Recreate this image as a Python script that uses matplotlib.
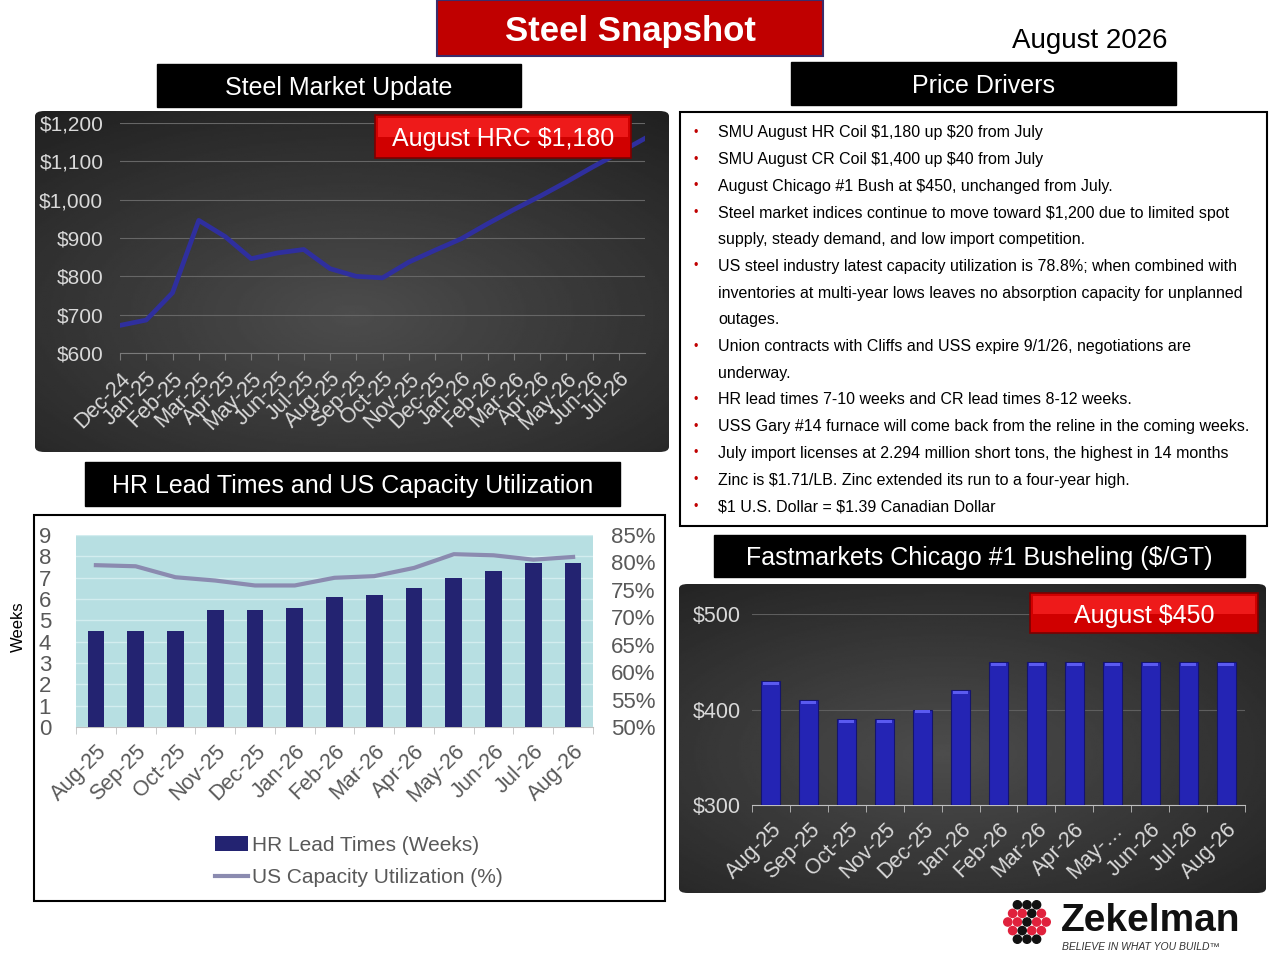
import matplotlib.pyplot as plt
import numpy as np
from matplotlib.patches import Rectangle, FancyBboxPatch, Circle
from matplotlib.ticker import FuncFormatter

plt.rcParams['font.family'] = ['Liberation Sans', 'DejaVu Sans']
plt.rcParams['text.parse_math'] = False

W, H = 1280, 960

# ---- data ----
hrc_months = ['Dec-24', 'Jan-25', 'Feb-25', 'Mar-25', 'Apr-25', 'May-25', 'Jun-25',
              'Jul-25', 'Aug-25', 'Sep-25', 'Oct-25', 'Nov-25', 'Dec-25', 'Jan-26',
              'Feb-26', 'Mar-26', 'Apr-26', 'May-26', 'Jun-26', 'Jul-26']
hrc_price = [672, 686, 757, 946, 904, 846, 861, 870, 820, 800, 796, 837, 868, 898,
             937, 974, 1009, 1046, 1085, 1122, 1160]

lead_months = ['Aug-25', 'Sep-25', 'Oct-25', 'Nov-25', 'Dec-25', 'Jan-26', 'Feb-26',
               'Mar-26', 'Apr-26', 'May-26', 'Jun-26', 'Jul-26', 'Aug-26']
lead_weeks = [4.5, 4.5, 4.5, 5.5, 5.5, 5.6, 6.1, 6.2, 6.5, 7.0, 7.3, 7.7, 7.7]
cap_util = [79.5, 79.3, 77.3, 76.7, 75.8, 75.8, 77.2, 77.5, 79.0, 81.5, 81.3, 80.5, 81.0]

bush_months = ['Aug-25', 'Sep-25', 'Oct-25', 'Nov-25', 'Dec-25', 'Jan-26', 'Feb-26',
               'Mar-26', 'Apr-26', 'May-…', 'Jun-26', 'Jul-26', 'Aug-26']
bush_price = [430, 410, 390, 390, 400, 420, 450, 450, 450, 450, 450, 450, 450]

drivers = [
    'SMU August HR Coil $1,180 up $20 from July',
    'SMU August CR Coil $1,400 up $40 from July',
    'August Chicago #1 Bush at $450, unchanged from July.',
    'Steel market indices continue to move toward $1,200 due to limited spot\n'
    'supply, steady demand, and low import competition.',
    'US steel industry latest capacity utilization is 78.8%; when combined with\n'
    'inventories at multi-year lows leaves no absorption capacity for unplanned\n'
    'outages.',
    'Union contracts with Cliffs and USS expire 9/1/26, negotiations are\n'
    'underway.',
    'HR lead times 7-10 weeks and CR lead times 8-12 weeks.',
    'USS Gary #14 furnace will come back from the reline in the coming weeks.',
    'July import licenses at 2.294 million short tons, the highest in 14 months',
    'Zinc is $1.71/LB. Zinc extended its run to a four-year high.',
    '$1 U.S. Dollar = $1.39 Canadian Dollar',
]

fig = plt.figure(figsize=(12.8, 9.6), dpi=100, facecolor='white')


def rect(x0, y0, x1, y1):
    return [x0 / W, 1 - y1 / H, (x1 - x0) / W, (y1 - y0) / H]


def box(x0, y0, x1, y1, text, fc='black', ec='black', size=18, weight='normal', lw=1.0):
    fig.patches.append(Rectangle((x0 / W, 1 - y1 / H), (x1 - x0) / W, (y1 - y0) / H,
                                 transform=fig.transFigure, fc=fc, ec=ec, lw=lw))
    fig.text((x0 + x1) / 2 / W, 1 - (y0 + y1) / 2 / H, text, color='white',
             ha='center', va='center_baseline', size=size, weight=weight)


def red_label(x0, y0, x1, y1, text):
    # red tag with a lighter top band for the bevel look
    box(x0, y0, x1, y1, '', fc='#d00000', ec='#7a0000', lw=1.2)
    hh = (y1 - y0) * 0.45
    fig.patches.append(Rectangle(((x0 + 3) / W, 1 - (y0 + 3 + hh) / H), (x1 - x0 - 6) / W, hh / H,
                                 transform=fig.transFigure, fc='#ee1a1a', ec='none'))
    fig.text((x0 + x1) / 2 / W, 1 - (y0 + y1) / 2 / H, text, color='white',
             ha='center', va='center_baseline', size=18, zorder=4)


def dark_panel(x0, y0, x1, y1, cx=0.5, cy=0.6):
    bg = fig.add_axes(rect(x0, y0, x1, y1))
    yy, xx = np.mgrid[0:1:200j, 0:1:300j]
    r = np.hypot(xx - cx, (yy - cy) * 1.1)
    img = np.clip(0.30 - 0.21 * r, 0, 1)
    im = bg.imshow(img, cmap='gray', vmin=0, vmax=1, extent=(0, 1, 0, 1), aspect='auto')
    clip = FancyBboxPatch((0, 0), 1, 1, boxstyle='round,pad=0,rounding_size=0.015',
                          transform=bg.transAxes, fc='none', ec='none')
    bg.add_patch(clip)
    im.set_clip_path(clip)
    bg.axis('off')


# ---- headers ----
box(437, 0, 823, 56, 'Steel Snapshot', fc='#c00000', ec='#3b2d6b', size=25, weight='bold', lw=1.5)
fig.text(1167 / W, 1 - 38 / H, 'August 2026', ha='right', va='center_baseline', size=20, color='black')
box(157, 64, 521, 107, 'Steel Market Update')
box(791, 62, 1176, 105, 'Price Drivers')
box(85, 462, 620, 506, 'HR Lead Times and US Capacity Utilization')
box(714, 535, 1245, 577, 'Fastmarkets Chicago #1 Busheling ($/GT)')

# ---- HRC line chart ----
dark_panel(35, 111, 669, 452)
ax1 = fig.add_axes(rect(120, 123, 645, 353))
ax1.patch.set_alpha(0)
x = np.arange(len(hrc_price))
ax1.plot(x, hrc_price, color='#2f2f9e', lw=3.4, solid_joinstyle='round', zorder=3)
ax1.set_xlim(0, len(hrc_price) - 1)
ax1.set_ylim(600, 1200)
ax1.set_yticks(np.arange(600, 1201, 100))
ax1.yaxis.set_major_formatter(FuncFormatter(lambda v, p: f'${v:,.0f}'))
ax1.set_xticks(np.arange(len(hrc_months)))
ax1.set_xticklabels(hrc_months, rotation=45, ha='right', rotation_mode='anchor')
ax1.grid(axis='y', color='#666666', lw=0.8)
ax1.set_axisbelow(True)
for s in ['top', 'right', 'left']:
    ax1.spines[s].set_visible(False)
ax1.spines['bottom'].set_color('#7a7a7a')
ax1.tick_params(axis='y', length=0, pad=12, labelsize=15, labelcolor='#d9d9d9')
ax1.tick_params(axis='x', length=5, color='#7a7a7a', pad=6, labelsize=15.5, labelcolor='#d9d9d9')
red_label(375, 115, 631, 158, 'August HRC $1,180')

# ---- price drivers text ----
fig.patches.append(Rectangle((680 / W, 1 - 526 / H), 587 / W, 414 / H,
                             transform=fig.transFigure, fc='white', ec='black', lw=1.5))
line_y = 133
step = 26.7
for item in drivers:
    fig.text(693 / W, 1 - line_y / H, '•', color='#c00000', size=9, ha='left', va='center')
    for part in item.split('\n'):
        fig.text(718 / W, 1 - line_y / H, part, color='black', size=11.5, ha='left', va='center')
        line_y += step

# ---- lead times / capacity chart ----
fig.patches.append(Rectangle((34 / W, 1 - 901 / H), 631 / W, 386 / H,
                             transform=fig.transFigure, fc='none', ec='black', lw=1.5, zorder=5))
ax2 = fig.add_axes(rect(76, 535, 593, 727))
ax2.set_facecolor('#b7dfe2')
xi = np.arange(len(lead_months))
bars = ax2.bar(xi, lead_weeks, width=0.42, color='#232371', zorder=3, label='HR Lead Times (Weeks)')
ax2.set_xlim(-0.5, len(lead_months) - 0.5)
ax2.set_ylim(0, 9)
ax2.set_yticks(range(0, 10))
ax2.grid(axis='y', color='#d3edef', lw=1.0)
ax2.set_axisbelow(True)
ax2.set_xticks(xi)
ax2.set_xticklabels(lead_months, rotation=45, ha='right', rotation_mode='anchor')
ax2.set_xticks(np.arange(-0.5, len(lead_months)), minor=True)
ax2.tick_params(axis='x', which='major', length=0, pad=10, labelsize=15.5, labelcolor='#595959')
ax2.tick_params(axis='x', which='minor', length=5, color='#bfbfbf')
ax2.tick_params(axis='y', length=0, pad=18, labelsize=16, labelcolor='#595959')
for s in ['top', 'right', 'left']:
    ax2.spines[s].set_visible(False)
ax2.spines['bottom'].set_color('#bfbfbf')

ax2r = ax2.twinx()
line, = ax2r.plot(xi, np.array(cap_util) / 100, color='#8b8bb0', lw=3,
                  solid_joinstyle='round', label='US Capacity Utilization (%)')
ax2r.set_ylim(0.50, 0.85)
ax2r.set_yticks(np.arange(0.50, 0.851, 0.05))
ax2r.yaxis.set_major_formatter(FuncFormatter(lambda v, p: f'{v * 100:.0f}%'))
ax2r.tick_params(axis='y', length=0, pad=13, labelsize=16, labelcolor='#595959')
for s in ax2r.spines.values():
    s.set_visible(False)

fig.text(18 / W, 1 - 627 / H, 'Weeks', rotation=90, ha='center', va='center', size=12, color='black')
fig.legend(handles=[bars, line], loc='upper left', bbox_to_anchor=(196 / W, 1 - 817 / H),
           frameon=False, fontsize=15, labelcolor='#595959', handlelength=1.6,
           handletextpad=0.2, labelspacing=0.65)

# ---- busheling chart ----
dark_panel(679, 584, 1266, 893, cx=0.45, cy=0.55)
ax3 = fig.add_axes(rect(752, 614, 1245, 805))
ax3.patch.set_alpha(0)
xb = np.arange(len(bush_months))
ax3.bar(xb, np.array(bush_price) - 300, bottom=300, width=0.5, color='#2424b4',
        edgecolor='#14146e', lw=0.8, zorder=3)
# light cap on top of each bar
ax3.bar(xb, 3, bottom=np.array(bush_price) - 4, width=0.4, color='#5a5af0', zorder=4)
ax3.set_xlim(-0.5, len(bush_months) - 0.5)
ax3.set_ylim(300, 500)
ax3.set_yticks([300, 400, 500])
ax3.yaxis.set_major_formatter(FuncFormatter(lambda v, p: f'${v:.0f}'))
ax3.grid(axis='y', color='#5e5e5e', lw=0.8)
ax3.set_axisbelow(True)
ax3.set_xticks(xb)
ax3.set_xticklabels(bush_months, rotation=45, ha='right', rotation_mode='anchor')
ax3.set_xticks(np.arange(-0.5, len(bush_months)), minor=True)
ax3.tick_params(axis='x', which='major', length=0, pad=10, labelsize=15.5, labelcolor='#d9d9d9')
ax3.tick_params(axis='x', which='minor', length=5, color='#bfbfbf')
ax3.tick_params(axis='y', length=0, pad=8, labelsize=15.5, labelcolor='#d9d9d9')
for s in ['top', 'right', 'left']:
    ax3.spines[s].set_visible(False)
ax3.spines['bottom'].set_color('#bfbfbf')
red_label(1030, 593, 1258, 633, 'August $450')

# ---- logo ----
lg = fig.add_axes(rect(995, 893, 1250, 955))
lg.set_xlim(0, 255)
lg.set_ylim(62, 0)
lg.axis('off')
rows = [['k', 'k', 'k'], ['r', 'r', 'k', 'r'], ['r', 'r', 'k', 'r', 'r'],
        ['r', 'k', 'r', 'r'], ['k', 'k', 'k']]
for i, row in enumerate(rows):
    cy = 29 + (i - 2) * 8.6
    n = len(row)
    for j, c in enumerate(row):
        cx = 32 + (j - (n - 1) / 2) * 9.6
        lg.add_patch(Circle((cx, cy), 4.1, color='#e0213c' if c == 'r' else '#111111'))
lg.text(66, 28, 'Zekelman', size=28, weight='bold', color='#111111', ha='left', va='center')
lg.text(67, 54, 'BELIEVE IN WHAT YOU BUILD™', size=7.5, style='italic', color='#333333',
        ha='left', va='center')

fig.savefig('out.png', dpi=100, facecolor='white')
